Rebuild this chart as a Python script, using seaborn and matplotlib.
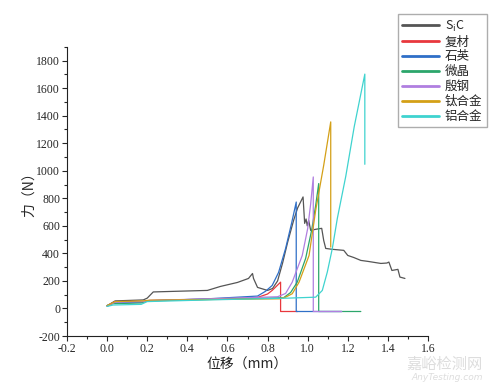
import pandas as pd
import matplotlib
matplotlib.use('Agg')
import matplotlib.pyplot as plt
import seaborn as sns
from matplotlib.ticker import MultipleLocator, FormatStrFormatter

# Curvas fuerza-desplazamiento de cada material
materials = ['S$_{\\rm i}$C', '复材', '石英', '微晶', '殷钢', '钛合金', '铝合金']
colors = ['#555555', '#e8383d', '#2f6fc7', '#2ca66b', '#b07fe0', '#d4a017', '#3fd3cf']

sic_x = [0.0, 0.04, 0.10, 0.18, 0.20, 0.23, 0.35, 0.50, 0.565, 0.65, 0.705, 0.725, 0.73,
         0.75, 0.80, 0.825, 0.85, 0.875, 0.90, 0.93, 0.95, 0.977, 0.985, 0.992, 0.998,
         1.005, 1.015, 1.04, 1.07, 1.08, 1.09, 1.12, 1.18, 1.20, 1.23, 1.265, 1.30,
         1.365, 1.395, 1.405, 1.42, 1.45, 1.46, 1.485]
sic_y = [20, 55, 58, 62, 75, 120, 125, 131, 160, 189, 218, 254, 218,
         153, 131, 145, 200, 330, 480, 640, 730, 810, 618, 650, 600,
         640, 567, 575, 582, 494, 436, 430, 422, 385, 370, 349, 342,
         327, 330, 337, 276, 284, 228, 218]

fc_x = [0.0, 0.04, 0.18, 0.21, 0.50, 0.75, 0.80, 0.823, 0.865, 0.865, 0.95]
fc_y = [20, 50, 50, 58, 68, 80, 105, 131, 191, -22, -22]

sy_x = [0.0, 0.03, 0.17, 0.20, 0.50, 0.75, 0.79, 0.823, 0.855, 0.89, 0.92, 0.943, 0.943, 1.17]
sy_y = [15, 40, 45, 55, 70, 90, 125, 167, 262, 436, 620, 773, -22, -22]

wj_x = [0.0, 0.03, 0.17, 0.20, 0.50, 0.88, 0.915, 0.948, 0.99, 1.02, 1.04, 1.055, 1.055, 1.265]
wj_y = [22, 35, 40, 55, 65, 78, 116, 191, 364, 570, 749, 907, -22, -22]

yg_x = [0.0, 0.04, 0.18, 0.21, 0.50, 0.85, 0.89, 0.923, 0.973, 1.0, 1.015, 1.028, 1.028, 1.17]
yg_y = [18, 45, 50, 58, 70, 85, 109, 191, 385, 580, 760, 955, -22, -22]

tai_x = [0.0, 0.04, 0.18, 0.21, 0.50, 0.86, 0.89, 0.923, 0.957, 1.007, 1.04, 1.08, 1.115, 1.115]
tai_y = [20, 50, 55, 60, 65, 70, 82, 107, 191, 385, 713, 1040, 1355, 446]

lv_x = [0.0, 0.03, 0.17, 0.20, 0.50, 0.90, 1.04, 1.073, 1.098, 1.123, 1.148, 1.19, 1.232, 1.285, 1.285]
lv_y = [15, 25, 30, 50, 62, 75, 82, 131, 265, 436, 655, 960, 1319, 1702, 1047]

series = [(sic_x, sic_y), (fc_x, fc_y), (sy_x, sy_y), (wj_x, wj_y),
          (yg_x, yg_y), (tai_x, tai_y), (lv_x, lv_y)]

frames = []
for name, (xs, ys) in zip(materials, series):
    frames.append(pd.DataFrame({'x': xs, 'y': ys, 'material': name}))
data = pd.concat(frames, ignore_index=True)

sns.set_style('ticks')
plt.rcParams['font.family'] = ['Noto Sans CJK SC', 'DejaVu Sans']
plt.rcParams['axes.unicode_minus'] = False

fig = plt.figure(figsize=(5, 3.83), dpi=100)
ax = fig.add_axes([0.134, 0.1227, 0.722, 0.755])

sns.lineplot(data=data, x='x', y='y', hue='material', palette=colors,
             sort=False, estimator=None, linewidth=0.9, ax=ax, legend=False)

ax.set_xlim(-0.2, 1.6)
ax.set_ylim(-200, 1900)
ax.xaxis.set_major_locator(MultipleLocator(0.2))
ax.xaxis.set_minor_locator(MultipleLocator(0.1))
ax.set_yticks(range(-200, 1801, 200))
ax.yaxis.set_minor_locator(MultipleLocator(100))
ax.tick_params(which='major', length=3.5, width=0.8, labelsize=8.5, pad=1.5)
ax.tick_params(which='minor', length=2, width=0.8)
for lab in ax.get_xticklabels() + ax.get_yticklabels():
    lab.set_family('Liberation Serif')
ax.xaxis.set_major_formatter(FormatStrFormatter('%.1f'))
sns.despine(ax=ax)
for sp in ['left', 'bottom']:
    ax.spines[sp].set_color('#222222')

ax.set_xlabel('位移（mm）', fontsize=10, labelpad=2)
ax.set_ylabel('力（N）', fontsize=10, labelpad=0)

# leyenda fuera del area de trazado
handles = [plt.Line2D([], [], color=c, linewidth=2) for c in colors]
fig.legend(handles, materials, loc='upper left', bbox_to_anchor=(0.796, 0.963),
           fontsize=9, frameon=True, fancybox=False, edgecolor='#999999',
           handlelength=2.9, handletextpad=0.5, labelspacing=0.15,
           borderpad=0.35, borderaxespad=0)

# marca de agua
fig.text(0.965, 0.027, '嘉峪检测网', fontsize=11, color='#dddddd', ha='right', va='bottom')
fig.text(0.965, 0.002, 'AnyTesting.com', fontsize=6.5, color='#dddddd', ha='right',
         va='bottom', style='italic', family='DejaVu Sans')

plt.savefig('out.png', dpi=100)
